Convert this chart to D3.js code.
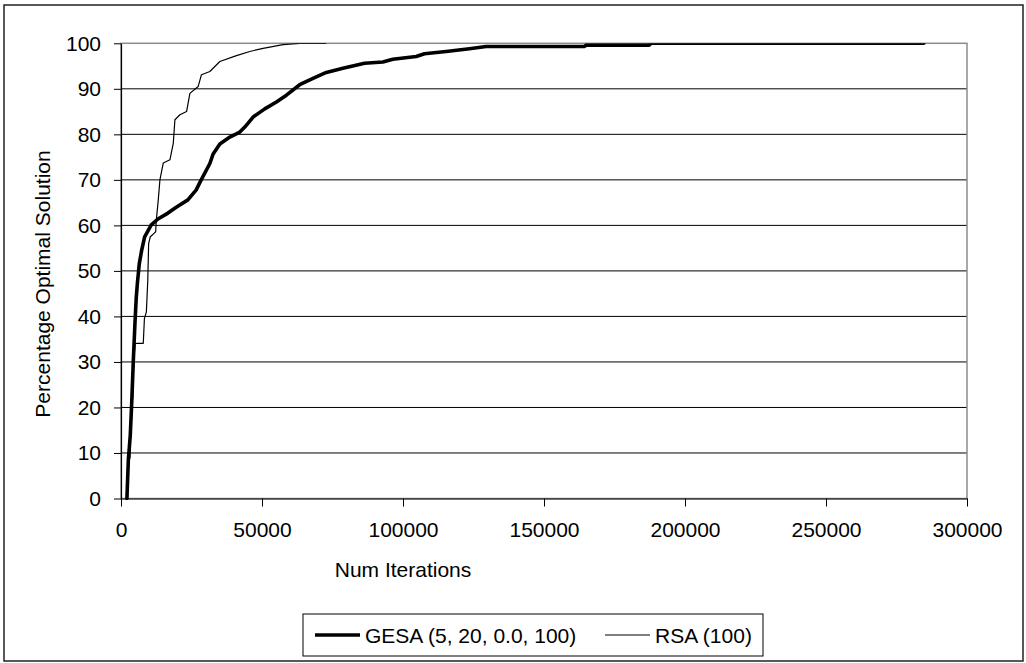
<!DOCTYPE html>
<html>
<head>
<meta charset="utf-8">
<script src="https://cdn.jsdelivr.net/npm/d3@7"></script>
<style>
  body { margin: 0; background: #fff; }
  svg text { font-family: "Liberation Sans", Arial, sans-serif; fill: #000; }
</style>
</head>
<body>
<div id="chart"></div>
<script>
// values
var seriesNames = ["GESA (5, 20, 0.0, 100)", "RSA (100)"];
var xTicks = [0, 50000, 100000, 150000, 200000, 250000, 300000];
var yTicks = [0, 10, 20, 30, 40, 50, 60, 70, 80, 90, 100];

var gesaIter = [2100, 2600, 3300, 3800, 4350, 4950, 5400, 5800, 6490, 7320, 8390, 10730, 13100, 16640, 19590, 23720, 26670, 28440, 31510, 32680, 35050, 38590, 42130, 43900, 46840, 50980, 55110, 58650, 63370, 68080, 72800, 78700, 86380, 92850, 96390, 104680, 107620, 115300, 123550, 129460, 164260, 165000, 187300, 188000, 284700];
var gesaPct  = [0, 8.4, 14, 21, 30, 38.5, 44, 47.2, 51.6, 54.5, 57.5, 60.1, 61.4, 62.7, 64, 65.6, 67.8, 70, 73.6, 75.7, 77.9, 79.4, 80.5, 81.6, 83.8, 85.6, 87.1, 88.6, 90.9, 92.3, 93.6, 94.5, 95.6, 95.9, 96.5, 97.1, 97.7, 98.2, 98.8, 99.3, 99.3, 99.6, 99.6, 100, 100];

var rsaIter = [2300, 2600, 3200, 3500, 4200, 4500, 5000, 5600, 7900, 8300, 9000, 9500, 9800, 10400, 11800, 12300, 12500, 13200, 13800, 14980, 17350, 18530, 19120, 20890, 23250, 24430, 27360, 28530, 31510, 35050, 40950, 45670, 50390, 57450, 63370, 72800];
var rsaPct  = [0, 8, 9, 21, 22, 30, 34, 34.1, 34.1, 39.5, 41, 48, 56, 57.5, 58.3, 58.6, 61, 65.5, 70, 73.7, 74.4, 78, 83.2, 84.3, 85, 89, 90.5, 93.1, 93.8, 96, 97.3, 98.2, 98.9, 99.7, 100, 100];

var W = 1026, H = 663;
var plotL = 121, plotR = 967, plotT = 43.3, plotB = 498.5;

var svg = d3.select("#chart").append("svg")
    .attr("width", W)
    .attr("height", H);

// outer chart frame
svg.append("rect")
    .attr("x", 4).attr("y", 5)
    .attr("width", 1019).attr("height", 656)
    .attr("fill", "#fff")
    .attr("stroke", "#222")
    .attr("stroke-width", 1.5);

var x = d3.scaleLinear().domain([0, 300000]).range([plotL, plotR]);
var y = d3.scaleLinear().domain([0, 100]).range([plotB, plotT]);

// gridlines
svg.append("g").selectAll("line")
    .data(yTicks.filter(function(d){ return d > 0 && d < 100; }))
    .enter().append("line")
    .attr("x1", plotL).attr("x2", plotR)
    .attr("y1", function(d){ return y(d); })
    .attr("y2", function(d){ return y(d); })
    .attr("stroke", "#000")
    .attr("stroke-width", 1);

// plot area border (grey)
svg.append("rect")
    .attr("x", plotL).attr("y", plotT)
    .attr("width", plotR - plotL).attr("height", plotB - plotT)
    .attr("fill", "none")
    .attr("stroke", "#8c8c8c")
    .attr("stroke-width", 1.5);

var yAxis = svg.append("g")
    .attr("transform", "translate(" + plotL + ",0)")
    .call(d3.axisLeft(y).tickValues(yTicks).tickSize(7).tickSizeOuter(0).tickPadding(13));

var xAxis = svg.append("g")
    .attr("transform", "translate(0," + plotB + ")")
    .call(d3.axisBottom(x).tickValues(xTicks).tickSize(8).tickSizeOuter(0).tickPadding(16).tickFormat(d3.format("d")));

[yAxis, xAxis].forEach(function(a){
    a.select(".domain").attr("stroke", "#000").attr("stroke-width", 1.2);
    a.selectAll(".tick line").attr("stroke", "#000");
    a.selectAll(".tick text").style("font-size", "21px").attr("fill", "#000");
});

// series
svg.append("clipPath").attr("id", "plotclip")
    .append("rect")
    .attr("x", plotL).attr("y", plotT)
    .attr("width", plotR - plotL).attr("height", plotB - plotT + 2);

var line = d3.line()
    .x(function(d){ return x(d[0]); })
    .y(function(d){ return y(d[1]); });

var gesa = d3.zip(gesaIter, gesaPct);
var rsa = d3.zip(rsaIter, rsaPct);

var lines = svg.append("g").attr("clip-path", "url(#plotclip)");

lines.append("path")
    .datum(rsa)
    .attr("d", line)
    .attr("fill", "none")
    .attr("stroke", "#000")
    .attr("stroke-width", 1.2)
    .attr("stroke-linejoin", "round");

lines.append("path")
    .datum(gesa)
    .attr("d", line)
    .attr("fill", "none")
    .attr("stroke", "#000")
    .attr("stroke-width", 3.6)
    .attr("stroke-linejoin", "round")
    .attr("stroke-linecap", "round");

// axis titles
svg.append("text")
    .attr("x", 403)
    .attr("y", 577)
    .attr("text-anchor", "middle")
    .style("font-size", "21px")
    .text("Num Iterations");

svg.append("text")
    .attr("transform", "translate(50,284) rotate(-90)")
    .attr("text-anchor", "middle")
    .style("font-size", "21px")
    .text("Percentage Optimal Solution");

// legend
var legend = svg.append("g");
legend.append("rect")
    .attr("x", 303).attr("y", 614)
    .attr("width", 460).attr("height", 42)
    .attr("fill", "#fff")
    .attr("stroke", "#000")
    .attr("stroke-width", 1);

var legendItems = [
    { name: seriesNames[0], x: 315, w: 3.6 },
    { name: seriesNames[1], x: 605, w: 1.2 }
];

legendItems.forEach(function(it){
    legend.append("line")
        .attr("x1", it.x).attr("x2", it.x + 45)
        .attr("y1", 635).attr("y2", 635)
        .attr("stroke", "#000")
        .attr("stroke-width", it.w);
    legend.append("text")
        .attr("x", it.x + 50)
        .attr("y", 642.5)
        .style("font-size", "21px")
        .text(it.name);
});
</script>
</body>
</html>
